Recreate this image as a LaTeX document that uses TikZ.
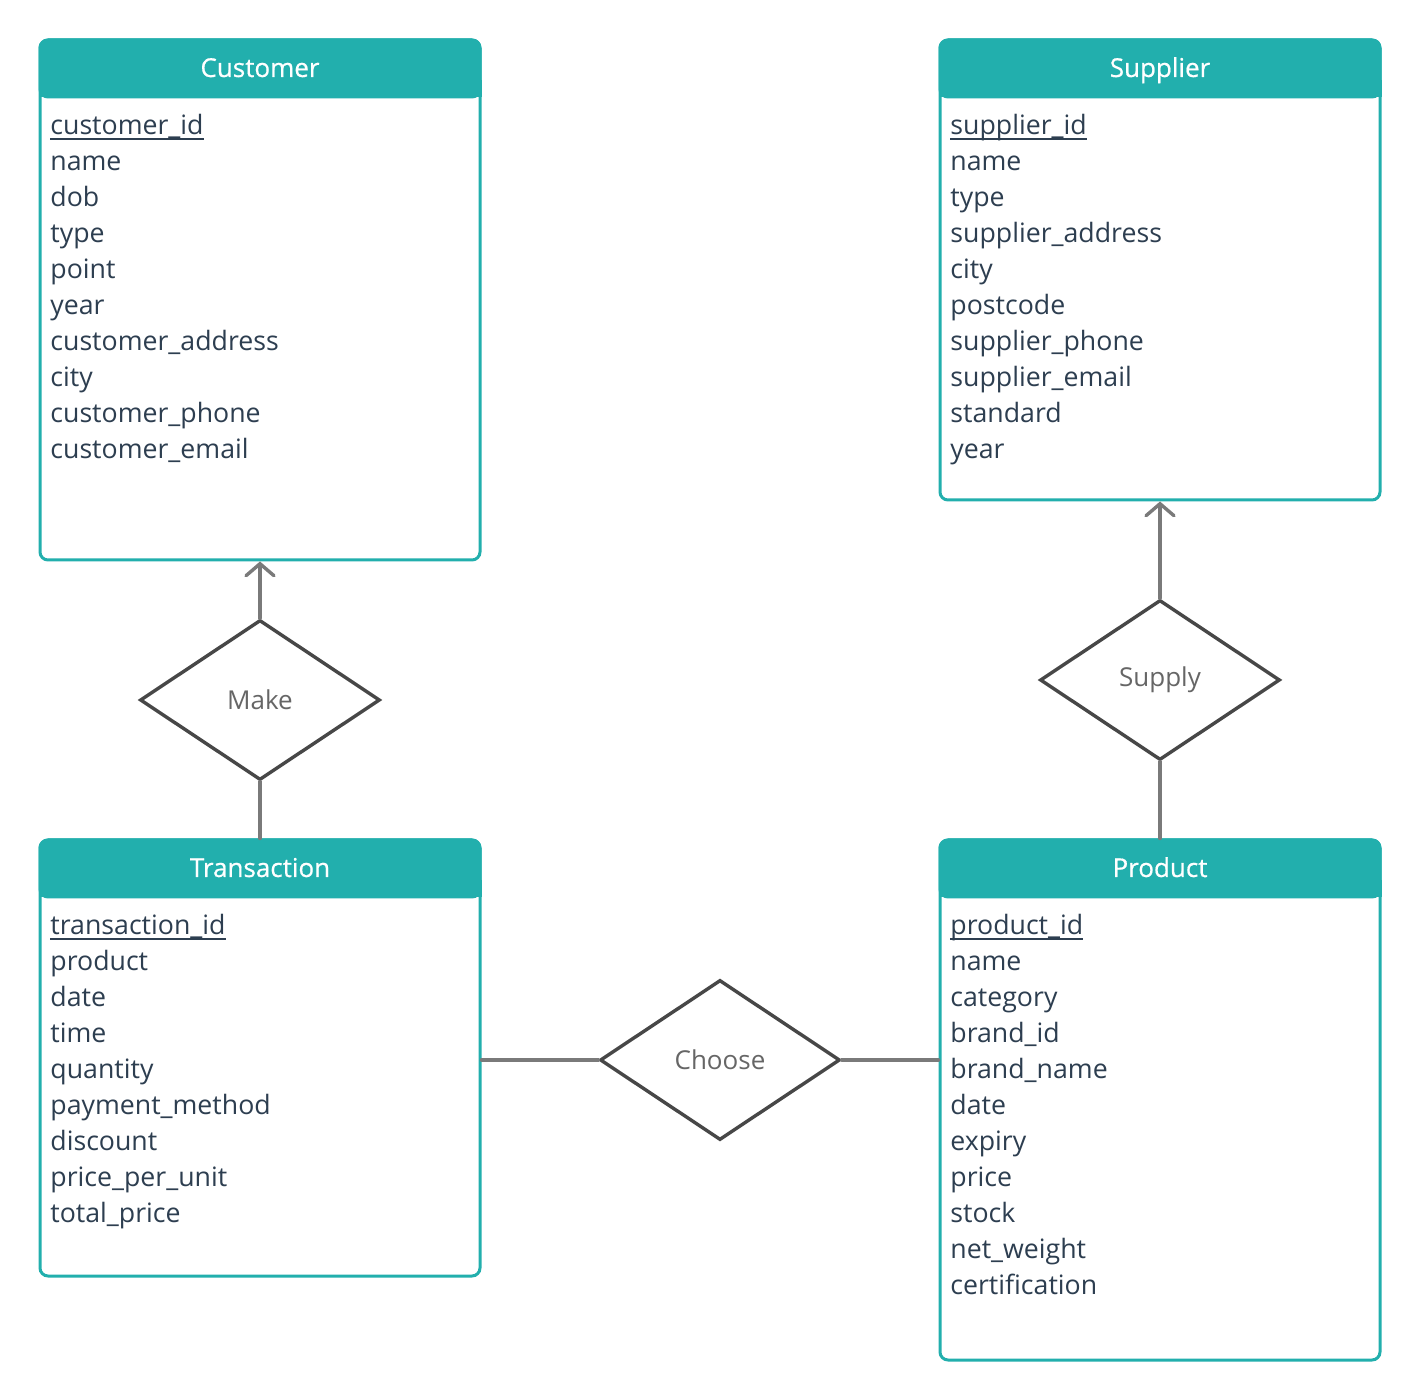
\documentclass[tikz,border=0pt]{standalone}
\usepackage{fontspec}
\setmainfont{Open Sans}
\newfontfamily\titlefont[FakeBold=0.6]{Open Sans}
\usetikzlibrary{arrows.meta,shapes.geometric}
\definecolor{teal1}{HTML}{22AFAD}
\definecolor{txt}{HTML}{2D3E50}
\definecolor{dia}{HTML}{474747}
\definecolor{conn}{HTML}{7A7A7A}
\definecolor{lbl}{HTML}{666666}
\newcommand\myul[1]{\setbox0\hbox{#1}\rlap{\rule[-2.6pt]{\wd0}{0.7pt}}\box0}
\tikzset{
  entbox/.style={draw=teal1, fill=white, line width=1.5pt, rounded corners=4pt, minimum width=220pt, inner sep=0pt},
  enthead/.style={draw=teal1, fill=teal1, line width=1.5pt, rounded corners=4pt, minimum width=220pt, minimum height=28.5pt, inner sep=0pt},
  title/.style={anchor=base, inner sep=0pt, text=white, font=\titlefont\fontsize{13}{16}\selectfont},
  attr/.style={anchor=base west, inner sep=0pt, text=txt, font=\fontsize{13.35}{16}\selectfont},
  rel/.style={diamond, draw=dia, fill=white, line width=1.7pt, minimum width=120pt, minimum height=80pt, inner sep=0pt, text=lbl, font=\fontsize{13}{16}\selectfont},
  connline/.style={draw=conn, line width=1.7pt, line cap=round},
  arrowline/.style={connline, -{Straight Barb[length=6pt, width=14pt, line cap=round]}}
}
\begin{document}
\begin{tikzpicture}[x=0.5pt,y=-0.5pt]
\useasboundingbox[fill=white] (0,0) rectangle (1420,1400);

% Customer
\node[entbox, minimum height=260pt] (cust) at (260,300) {};
\node[enthead] (custh) at (260,68.5) {};
\fill[teal1] (38.5,80) rectangle (481.5,97);
\node[title] (custt) at (260,77) {Customer};
\foreach \t [count=\i] in {\myul{customer\_id},name,dob,type,point,year,customer\_address,city,customer\_phone,customer\_email}
  \node[attr] (ca\i) at (50,{134.5+36*(\i-1)}) {\t};

% Supplier
\node[entbox, minimum height=230pt] (supp) at (1160,270) {};
\node[enthead] (supph) at (1160,68.5) {};
\fill[teal1] (938.5,80) rectangle (1381.5,97);
\node[title] (suppt) at (1160,77) {Supplier};
\foreach \t [count=\i] in {\myul{supplier\_id},name,type,supplier\_address,city,postcode,supplier\_phone,supplier\_email,standard,year}
  \node[attr] (sa\i) at (950,{134.5+36*(\i-1)}) {\t};

% Transaction
\node[entbox, minimum height=218pt] (trans) at (260,1058) {};
\node[enthead] (transh) at (260,868.5) {};
\fill[teal1] (38.5,880) rectangle (481.5,897);
\node[title] (transt) at (260,877) {Transaction};
\foreach \t [count=\i] in {\myul{transaction\_id},product,date,time,quantity,payment\_method,discount,price\_per\_unit,total\_price}
  \node[attr] (ta\i) at (50,{934.5+36*(\i-1)}) {\t};

% Product
\node[entbox, minimum height=260pt] (prod) at (1160,1100) {};
\node[enthead] (prodh) at (1160,868.5) {};
\fill[teal1] (938.5,880) rectangle (1381.5,897);
\node[title] (prodt) at (1160,877) {Product};
\foreach \t [count=\i] in {\myul{product\_id},name,category,brand\_id,brand\_name,date,expiry,price,stock,net\_weight,certification}
  \node[attr] (pa\i) at (950,{934.5+36*(\i-1)}) {\t};

% Relationships
\node[rel] (make) at (260,700) {Make};
\node[rel] (supply) at (1160,680) {Supply};
\node[rel] (choose) at (720,1060) {Choose};

% Connectors
\draw[arrowline] (make.north) -- (cust.south);
\draw[connline] (make.south) -- (trans.north);
\draw[arrowline] (supply.north) -- (supp.south);
\draw[connline] (supply.south) -- (prod.north);
\draw[connline] (choose.west) -- (trans.east |- choose.west);
\draw[connline] (choose.east) -- (prod.west |- choose.east);
\end{tikzpicture}
\end{document}
